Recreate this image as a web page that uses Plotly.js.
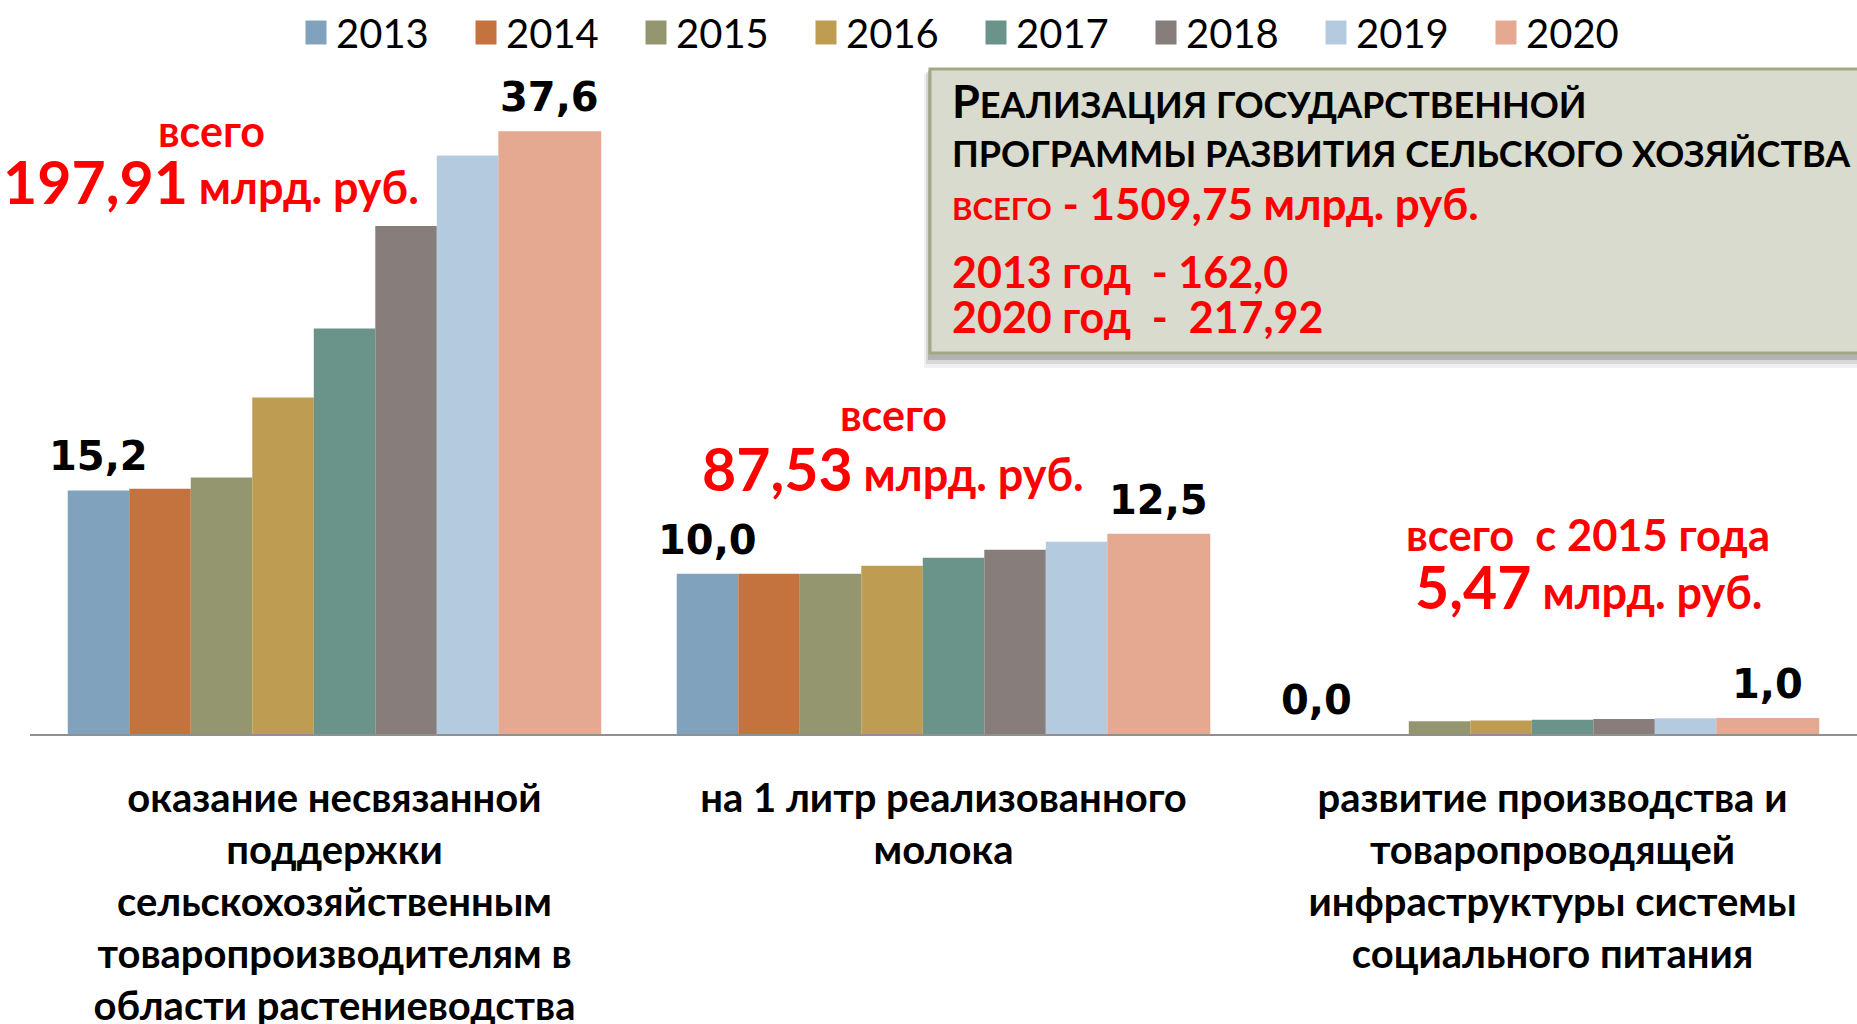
<!DOCTYPE html>
<html><head><meta charset="utf-8">
<script src="https://cdn.plot.ly/plotly-3.0.1.min.js"></script>
<style>html,body{margin:0;padding:0;background:#fff;} #chart{width:1857px;height:1024px;}</style>
</head><body><div id="chart"></div>
<script>
// ---- data ----
const categories = [
  'оказание несвязанной<br>поддержки<br>сельскохозяйственным<br>товаропроизводителям в<br>области растениеводства',
  'на 1 литр реализованного<br>молока',
  'развитие производства и<br>товаропроводящей<br>инфраструктуры системы<br>социального питания'
];
const years = ['2013','2014','2015','2016','2017','2018','2019','2020'];
const v2013 = [15.2, 10.0, 0.0];
const v2014 = [15.3, 10.0, 0.0];
const v2015 = [16.0, 10.0, 0.80];
const v2016 = [21.0, 10.5, 0.85];
const v2017 = [25.3, 11.0, 0.89];
const v2018 = [31.7, 11.5, 0.93];
const v2019 = [36.1, 12.0, 0.98];
const v2020 = [37.6, 12.5, 1.0];
const totalHead = ['всего', 'всего', 'всего&nbsp; с 2015 года'];
const totalNum = ['197,91', '87,53', '5,47'];
const totalUnit = 'млрд. руб.';
const boxLines = [
  '<span style="font-size:45px">Р</span>ЕАЛИЗАЦИЯ ГОСУДАРСТВЕННОЙ',
  'ПРОГРАММЫ РАЗВИТИЯ СЕЛЬСКОГО ХОЗЯЙСТВА',
  '<span style="font-size:31px">ВСЕГО</span> - 1509,75 млрд. руб.',
  '2013 год&nbsp; - 162,0',
  '2020 год&nbsp; - &nbsp;217,92'
];

// ---- styling ----
const seriesValues = [v2013, v2014, v2015, v2016, v2017, v2018, v2019, v2020];
const colors = ['#80A2BD','#C4723E','#949670','#BE9C52','#6A9389','#877D7B','#B4CBDF','#E4A990'];
const W = 1857, H = 1024, M = {l:30, r:0, t:40, b:290, autoexpand: false};
const plotW = W - M.l - M.r, plotH = H - M.t - M.b;
const px = x => (x - M.l) / plotW;
const py = y => 1 - (y - M.t) / plotH;
const barW = 0.101, lastW = 0.169;
const span = 7 * barW + lastW;
const widths = years.map((y, i) => i === 7 ? lastW : barW);
const offsets = years.map((y, i) => -span / 2 + i * barW);
const xs = categories.map((c, i) => i);
const fmt = v => v.toFixed(1).replace('.', ',');

const traces = years.map((yr, i) => ({
  type: 'bar', name: yr, x: xs, y: seriesValues[i],
  width: widths[i], offset: offsets[i],
  marker: {color: colors[i], line: {width: 0}},
  hoverinfo: 'skip'
}));

const annotations = [];
// data labels on first and last series
[[0, v2013], [7, v2020]].forEach(([si, vals]) => {
  vals.forEach((v, ci) => {
    annotations.push({
      x: ci + offsets[si] + widths[si] / 2, y: v, xref: 'x', yref: 'y',
      text: fmt(v), showarrow: false, yanchor: 'bottom', yshift: 9,
      font: {family: 'DejaVu Sans', size: 40, color: '#000', weight: 'bold'}
    });
  });
});
// red totals
const totalPos = [[211, 130, 181], [893, 414, 468], [1588, 534, 586]];
totalPos.forEach(([cx, y1, y2], i) => {
  annotations.push({x: px(cx), y: py(y1), xref: 'paper', yref: 'paper', text: totalHead[i],
    showarrow: false, xanchor: 'center', yanchor: 'middle',
    font: {family: 'Lato', size: i === 2 ? 43.5 : 43, color: '#FF0000', weight: 'bold'}});
  annotations.push({x: px(cx), y: py(y2), xref: 'paper', yref: 'paper',
    text: '<span style="font-size:59px">' + totalNum[i] + '</span> ' + totalUnit,
    showarrow: false, xanchor: 'center', yanchor: 'middle',
    font: {family: 'Lato', size: 45, color: '#FF0000', weight: 'bold'}});
});
// box text
const boxY = [101, 153, 203, 271, 316];
const boxSize = [36, 36, 44, 43, 43];
boxLines.forEach((t, i) => {
  annotations.push({x: px(950), y: py(boxY[i]), xref: 'paper', yref: 'paper', text: t,
    showarrow: false, xanchor: 'left', yanchor: 'middle',
    font: {family: 'Lato', size: boxSize[i], color: i < 2 ? '#000' : '#FF0000', weight: 'bold'}});
});

const rectPx = (x0, y0, x1, y1, extra) => Object.assign({type: 'rect', xref: 'paper', yref: 'paper',
  x0: px(x0), x1: px(x1), y0: py(y1), y1: py(y0), layer: 'below', line: {width: 0}}, extra);
const shapes = [
  rectPx(924, 74, 1880, 368, {fillcolor: 'rgba(0,0,0,0.06)'}),
  rectPx(926, 72, 1880, 364, {fillcolor: 'rgba(0,0,0,0.10)'}),
  rectPx(928, 70, 1880, 360, {fillcolor: 'rgba(0,0,0,0.16)'}),
  rectPx(930, 69, 1880, 353, {fillcolor: '#D8DBCD', line: {color: '#A2A886', width: 3}})
];

const layout = {
  width: W, height: H, margin: M, barmode: 'overlay',
  paper_bgcolor: '#fff', plot_bgcolor: 'rgba(0,0,0,0)',
  font: {family: 'Lato', color: '#000'},
  xaxis: {range: [-0.5, 2.5], tickvals: xs, ticktext: categories, showgrid: false, zeroline: false,
    showline: true, linecolor: '#909090', linewidth: 2, ticks: '', ticklabelstandoff: 28, automargin: false,
    tickfont: {family: 'Lato', size: 40, color: '#000', weight: 'bold'}, fixedrange: true},
  yaxis: {range: [0, 43.3], showgrid: false, zeroline: false, showticklabels: false, showline: false,
    automargin: false, fixedrange: true},
  showlegend: true,
  legend: {orientation: 'h', xref: 'container', yref: 'container', x: 296 / W, xanchor: 'left',
    y: 1 - 0 / H, yanchor: 'top', font: {family: 'Lato', size: 40, color: '#000'},
    entrywidth: 125, bgcolor: 'rgba(0,0,0,0)', traceorder: 'normal'},
  annotations: annotations, shapes: shapes
};

Plotly.newPlot('chart', traces, layout, {staticPlot: true, displayModeBar: false}).then(gd => {
  gd.querySelectorAll('.legend .legendpoints path').forEach(p => {
    const t = p.getAttribute('transform') || '';
    p.setAttribute('transform', t + ' scale(1.75,2)');
  });
});
</script>
</body></html>
